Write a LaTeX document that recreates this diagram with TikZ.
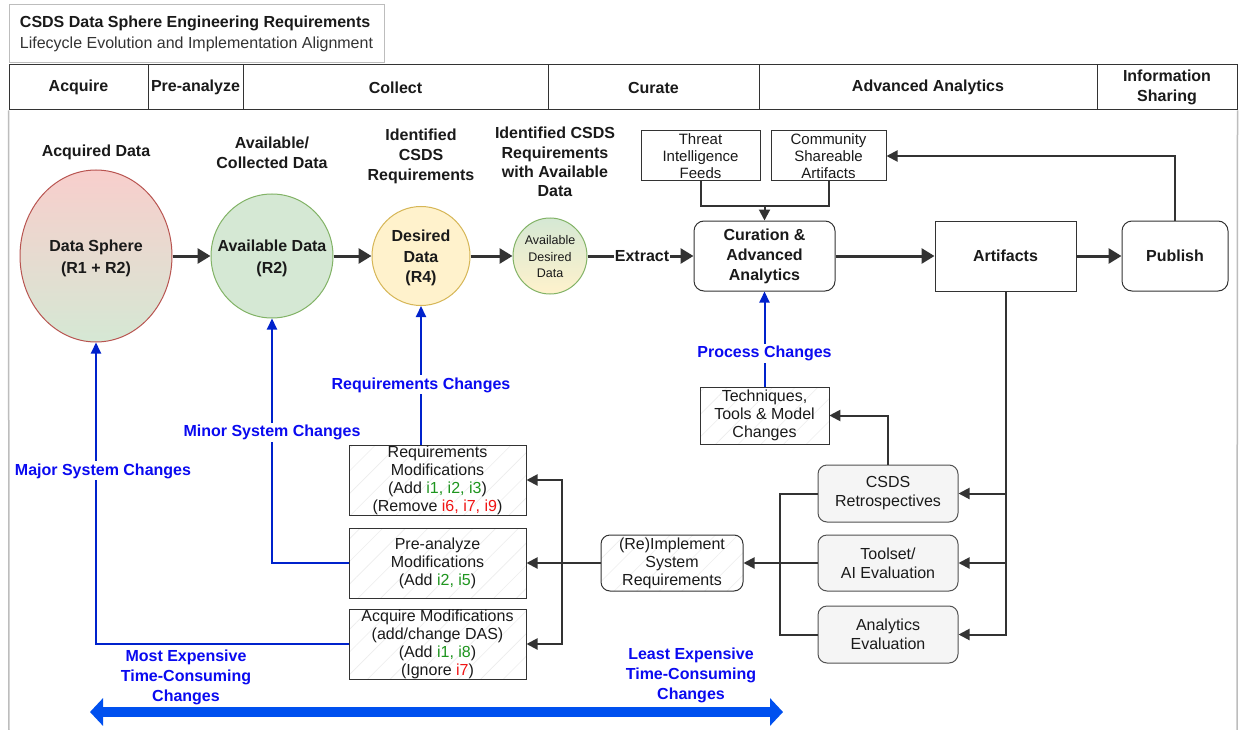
\documentclass[tikz,border=0pt]{standalone}
\usepackage{fontspec}
\setmainfont{Liberation Sans}
\usetikzlibrary{arrows.meta,shapes.geometric,patterns.meta}

\definecolor{ink}{HTML}{333333}
\definecolor{txt}{HTML}{1A1A1A}
\definecolor{framegray}{HTML}{BDBDBD}
\definecolor{chgtext}{HTML}{0A0AF0}
\definecolor{chgline}{HTML}{0022CC}
\definecolor{costblue}{HTML}{0050EF}
\definecolor{addgreen}{HTML}{1E951E}
\definecolor{dropred}{HTML}{F01414}
\definecolor{redfill}{HTML}{F8CECC}
\definecolor{redline}{HTML}{B85450}
\definecolor{greenfill}{HTML}{D5E8D4}
\definecolor{greenline}{HTML}{82B366}
\definecolor{yellowfill}{HTML}{FFF2CC}
\definecolor{yellowline}{HTML}{D6B656}
\definecolor{panelfill}{HTML}{F5F5F5}

\newcommand{\addi}[1]{\textcolor{addgreen}{#1}}
\newcommand{\dropi}[1]{\textcolor{dropred}{#1}}

\tikzset{
  lbl/.style={font=\bfseries\fontsize{16}{20}\selectfont, align=center, text=txt, inner sep=0pt},
  hdrcell/.style={draw=ink, line width=1pt, minimum height=45, inner sep=0pt,
    font=\bfseries\fontsize{16}{20}\selectfont, align=center, text=txt},
  sphere/.style={ellipse, inner sep=0pt, line width=1pt},
  spheretext/.style={font=\bfseries\fontsize{16}{21}\selectfont, align=center, text=txt, inner sep=0pt},
  stage/.style={draw=ink, line width=1pt, inner sep=0pt, align=center, text=txt,
    font=\bfseries\fontsize{16}{20}\selectfont},
  roundstage/.style={stage, rounded corners=10pt},
  feedbox/.style={draw=ink, line width=1pt, fill=white, inner sep=0pt, align=center,
    font=\fontsize{15}{17}\selectfont, text=txt},
  hatch/.style={pattern={Lines[angle=45,distance=16pt,line width=0.6pt]}, pattern color=black!7},
  modbox/.style={draw=ink, line width=1pt, inner sep=0pt, align=center,
    font=\fontsize{16}{18}\selectfont, text=txt, hatch},
  evalbox/.style={draw=ink!85, fill=panelfill, rounded corners=9pt, line width=1pt, inner sep=0pt,
    align=center, font=\fontsize{16}{19}\selectfont, text=txt},
  flowline/.style={draw=ink, line width=3pt},
  flow/.style={flowline, -{Triangle[length=13pt,width=15pt]}},
  link/.style={draw=ink, line width=2pt},
  linkarrow/.style={link, -{Triangle[length=11pt,width=11pt]}},
  chgarrow/.style={draw=chgline, line width=2pt, -{Triangle[length=11pt,width=10pt]}},
  chglbl/.style={font=\bfseries\fontsize{16}{20}\selectfont, text=chgtext, fill=white,
    inner sep=2pt, align=center},
}

\begin{document}
\begin{tikzpicture}[x=1pt, y=-1pt]
  \fill[white] (0,0) rectangle (1241,730);
  \useasboundingbox (0,0) rectangle (1241,730);

  % title block
  \node[draw=framegray, line width=1pt, minimum width=375, minimum height=58, inner sep=0pt,
        align=left, font=\fontsize{16}{21}\selectfont, text=txt] (title) at (196.5,34)
    {\textbf{CSDS Data Sphere Engineering Requirements}\\
     \textcolor{ink}{Lifecycle Evolution and Implementation Alignment}};

  % lifecycle phases
  \node[hdrcell, minimum width=139] (hAcq) at (78.5,87.5) {Acquire};
  \node[hdrcell, minimum width=95]  (hPre) at (195.5,87.5) {Pre-analyze};
  \node[hdrcell, minimum width=305] (hCol) at (395.5,87.5) {Collect};
  \node[hdrcell, minimum width=211] (hCur) at (653.5,87.5) {Curate};
  \node[hdrcell, minimum width=338] (hAdv) at (928,87.5) {Advanced Analytics};
  \node[hdrcell, minimum width=140] (hInf) at (1167,87.5) {Information\\Sharing};

  % swimlane frame
  \coordinate (frameBL) at (9,730);
  \coordinate (frameBR) at (1237,730);
  \draw[framegray, line width=1.5pt] (hAcq.south west) -- (frameBL);
  \draw[framegray, line width=1.5pt] (hInf.south east) -- (frameBR);

  % captions above the data sets
  \node[lbl] (capAcq) at (96,152) {Acquired Data};
  \node[lbl] (capCol) at (272,153) {Available/\\Collected Data};
  \node[lbl] (capReq) at (421,156) {Identified\\CSDS\\Requirements};
  \node[lbl, font=\bfseries\fontsize{16}{19.3}\selectfont] (capAvl) at (555,162)
    {Identified CSDS\\Requirements\\with Available\\Data};

  % data sets
  \node[sphere, minimum width=152, minimum height=172, draw=redline,
        top color=redfill, bottom color=greenfill] (ds) at (96,256) {};
  \node[spheretext, font=\bfseries\fontsize{16}{22}\selectfont] (dsTxt) at (96,258) {Data Sphere\\(R1 + R2)};
  \node[sphere, minimum width=122, minimum height=124, draw=greenline, fill=greenfill] (av) at (272,256) {};
  \node[spheretext, font=\bfseries\fontsize{16}{22}\selectfont] (avTxt) at (272,258) {Available Data\\(R2)};
  \node[sphere, minimum width=98, minimum height=99, draw=yellowline, fill=yellowfill] (dd) at (421,256) {};
  \node[spheretext, font=\bfseries\fontsize{16}{20.5}\selectfont] (ddTxt) at (421,258) {Desired\\Data\\(R4)};
  \node[sphere, minimum width=74, minimum height=76, draw=greenline,
        top color=greenfill, bottom color=yellowfill] (ad) at (550,256) {};
  \node[spheretext, font=\fontsize{12.5}{16.5}\selectfont] (adTxt) at (550,257) {Available\\Desired\\Data};

  \draw[flow] (ds) -- (av);
  \draw[flow] (av) -- (dd);
  \draw[flow] (dd) -- (ad);

  % curation and sharing chain
  \node[roundstage, minimum width=141, minimum height=70] (cur) at (764.5,256) {Curation \&\\Advanced\\Analytics};
  \node[stage, minimum width=141, minimum height=70] (art) at (1005.5,256) {Artifacts};
  \node[roundstage, minimum width=106, minimum height=70] (pub) at (1175,256) {Publish};

  \node[lbl, fill=white, inner sep=1pt] (ex) at (642,256) {Extract};
  \draw[flowline] (ad) -- (ex);
  \draw[flow] (ex) -- (cur);
  \draw[flow] (cur) -- (art);
  \draw[flow] (art) -- (pub);

  % external feeds
  \node[feedbox, minimum width=119, minimum height=50] (tif) at (700.5,156) {Threat\\Intelligence\\Feeds};
  \node[feedbox, minimum width=115, minimum height=50] (csa) at (828.5,156) {Community\\Shareable\\Artifacts};
  \coordinate (feedjoin) at (764.5,206);
  \draw[link] (tif.south) |- (feedjoin) -| (csa.south);
  \draw[linkarrow] (feedjoin) -- (cur.north);
  \draw[linkarrow] (pub.north) |- (csa.east);

  % process feedback
  \node[modbox, minimum width=129, minimum height=57] (tech) at (764.5,415.5) {Techniques,\\Tools \& Model\\Changes};
  \draw[chgarrow] (tech.north) -- node[chglbl, pos=0.35] (lblProc) {Process Changes} (cur.south);

  % evaluations
  \node[evalbox, minimum width=140, minimum height=57] (retro) at (888,493.5) {CSDS\\Retrospectives};
  \node[evalbox, minimum width=140, minimum height=56] (tool) at (888,563) {Toolset/\\AI Evaluation};
  \node[evalbox, minimum width=140, minimum height=57] (anl) at (888,634.5) {Analytics\\Evaluation};

  \draw[linkarrow] (art.south) |- (retro.east);
  \draw[linkarrow] (art.south) |- (tool.east);
  \draw[linkarrow] (art.south) |- (anl.east);
  \draw[linkarrow] (retro.north) |- (tech.east);

  % system requirement rework
  \node[modbox, rounded corners=9pt, minimum width=142, minimum height=56] (impl) at (672,563)
    {(Re)Implement\\System\\Requirements};
  \coordinate (evalbus) at (780,563);
  \draw[link] (retro.west) -| (evalbus);
  \draw[link] (anl.west) -| (evalbus);
  \draw[linkarrow] (tool.west) -- (impl.east);

  \node[modbox, minimum width=177, minimum height=70] (reqm) at (437.5,480)
    {Requirements\\Modifications\\(Add \addi{i1, i2, i3})\\(Remove \dropi{i6, i7, i9})};
  \node[modbox, minimum width=177, minimum height=70] (prem) at (437.5,563)
    {Pre-analyze\\Modifications\\(Add \addi{i2, i5})};
  \node[modbox, minimum width=177, minimum height=70] (acqm) at (437.5,644)
    {Acquire Modifications\\(add/change DAS)\\(Add \addi{i1, i8})\\(Ignore \dropi{i7})};

  \coordinate (modbus) at (562,563);
  \draw[link] (impl.west) -- (modbus);
  \draw[linkarrow] (modbus) |- (reqm.east);
  \draw[linkarrow] (modbus) -- (prem.east);
  \draw[linkarrow] (modbus) |- (acqm.east);

  % change paths back to the data sets
  \coordinate (reqTop) at (reqm.north -| dd.south);
  \draw[chgarrow] (reqTop) -- node[chglbl, pos=0.43] (lblReq) {Requirements Changes} (dd.south);
  \draw[chgarrow] (prem.west) -| node[chglbl, pos=0.767] (lblMinor) {Minor System Changes} (av.south);
  \draw[chgarrow] (acqm.west) -| node[chglbl, pos=0.787, xshift=7pt] (lblMajor) {Major System Changes} (ds.south);

  % cost scale
  \coordinate (costL) at (90,712);
  \coordinate (costR) at (783,712);
  \draw[costblue, line width=10pt, {Triangle[length=13pt,width=27pt]}-{Triangle[length=13pt,width=27pt]}] (costL) -- (costR);
  \node[chglbl, fill=none] (costMost) at (186,677) {Most Expensive\\Time-Consuming\\Changes};
  \node[chglbl, fill=none] (costLeast) at (691,675) {Least Expensive\\Time-Consuming\\Changes};
\end{tikzpicture}
\end{document}
